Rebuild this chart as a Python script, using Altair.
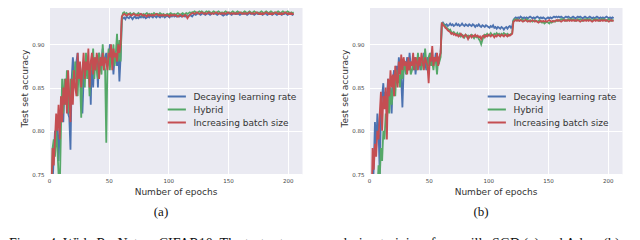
import altair as alt
import pandas as pd

series_names = ["Decaying learning rate", "Hybrid", "Increasing batch size"]
colors = ["#4C72B0", "#55A868", "#C44E52"]
x_ticks = [0, 50, 100, 150, 200]
y_ticks = [0.75, 0.80, 0.85, 0.90]
captions = ["(a)", "(b)"]
figure_caption = "Figure 4: Wide ResNet on CIFAR10. The test set accuracy during training, for vanilla SGD (a) and Adam (b)."

# ---------------- panel (a): epochs 1-61 ----------------
a_decay_early = [0.62,0.70,0.74,0.77,0.80,0.79,0.81,0.765,0.80,0.82,
 0.84,0.81,0.85,0.86,0.84,0.82,0.815,0.778,0.86,0.885,
 0.87,0.86,0.88,0.89,0.87,0.875,0.84,0.82,0.86,0.88,
 0.87,0.885,0.86,0.875,0.83,0.89,0.85,0.88,0.87,0.885,
 0.85,0.89,0.875,0.88,0.895,0.87,0.885,0.89,0.875,0.88,
 0.90,0.88,0.89,0.865,0.885,0.89,0.875,0.895,0.857,0.885,
 0.928]
a_hybrid_early = [0.60,0.72,0.78,0.79,0.77,0.80,0.78,0.75,0.73,0.80,
 0.86,0.82,0.86,0.83,0.87,0.85,0.82,0.86,0.84,0.87,
 0.85,0.88,0.86,0.84,0.875,0.86,0.815,0.87,0.88,0.85,
 0.89,0.86,0.875,0.84,0.88,0.87,0.895,0.86,0.885,0.87,
 0.86,0.89,0.875,0.865,0.90,0.88,0.87,0.786,0.88,0.895,
 0.87,0.89,0.88,0.90,0.875,0.89,0.912,0.88,0.905,0.88,
 0.930]
a_batch_early = [0.65,0.73,0.78,0.76,0.79,0.82,0.80,0.83,0.79,0.84,
 0.81,0.85,0.83,0.86,0.82,0.87,0.84,0.81,0.86,0.83,
 0.87,0.85,0.84,0.89,0.86,0.88,0.85,0.87,0.89,0.86,
 0.88,0.87,0.895,0.85,0.88,0.89,0.865,0.885,0.87,0.89,
 0.88,0.86,0.885,0.875,0.89,0.87,0.885,0.88,0.87,0.89,
 0.885,0.90,0.87,0.895,0.885,0.89,0.88,0.90,0.89,0.90,
 0.932]

# ---------------- panel (a): epochs 62-205 ----------------
a_decay_late = [0.930,0.931,0.929,0.932,0.931,0.930,0.932,0.931,0.929,0.931,0.932,0.930,
 0.931,0.930,0.932,0.931,0.933,0.931,0.932,0.930,0.931,0.932,0.931,0.933,
 0.932,0.931,0.933,0.932,0.931,0.933,0.932,0.931,0.933,0.932,0.933,0.931,
 0.932,0.933,0.932,0.931,0.933,0.932,0.934,0.932,0.933,0.932,0.933,0.932,
 0.933,0.932,0.934,0.933,0.932,0.933,0.932,0.933,0.934,0.933,0.932,
 0.934,0.935,0.934,0.935,0.936,0.935,0.934,0.935,0.936,0.935,0.934,0.935,
 0.936,0.935,0.934,0.935,0.936,0.935,0.936,0.935,0.934,0.935,0.936,0.935,
 0.934,0.933,0.934,0.935,0.934,0.935,0.936,0.935,0.934,0.935,0.936,0.935,
 0.935,0.936,0.935,0.934,0.935,0.936,0.935,0.936,0.935,0.934,0.935,0.936,
 0.935,0.936,0.935,0.934,0.935,0.936,0.935,0.935,0.936,0.935,0.934,0.935,
 0.936,0.935,0.934,0.935,0.936,0.935,0.934,0.935,0.936,0.935,0.934,0.935,
 0.936,0.935,0.934,0.935,0.935,0.936,0.935,0.934,0.935,0.936,0.935,0.934,
 0.935]
a_hybrid_late = [0.936,0.937,0.935,0.936,0.934,0.935,0.936,0.934,0.935,0.936,0.935,0.934,
 0.935,0.936,0.934,0.935,0.933,0.935,0.934,0.935,0.936,0.934,0.935,0.934,
 0.935,0.934,0.936,0.935,0.934,0.935,0.934,0.936,0.935,0.934,0.935,0.933,
 0.934,0.935,0.934,0.935,0.936,0.935,0.934,0.935,0.934,0.935,0.936,0.935,
 0.934,0.935,0.936,0.935,0.934,0.936,0.935,0.936,0.937,0.936,0.937,
 0.937,0.938,0.937,0.936,0.937,0.938,0.937,0.938,0.937,0.936,0.937,0.938,
 0.937,0.938,0.937,0.936,0.937,0.938,0.937,0.936,0.937,0.938,0.937,0.936,
 0.937,0.936,0.937,0.938,0.937,0.936,0.937,0.936,0.937,0.938,0.937,0.936,
 0.937,0.938,0.937,0.936,0.937,0.936,0.937,0.938,0.937,0.936,0.937,0.938,
 0.937,0.936,0.937,0.938,0.937,0.936,0.937,0.936,0.937,0.938,0.937,0.936,
 0.937,0.938,0.937,0.936,0.937,0.938,0.937,0.936,0.937,0.936,0.937,0.938,
 0.937,0.936,0.937,0.938,0.937,0.936,0.937,0.938,0.937,0.936,0.937,0.936,
 0.937]
a_batch_late = [0.934,0.935,0.934,0.933,0.934,0.935,0.934,0.933,0.934,0.935,0.934,0.933,
 0.934,0.933,0.934,0.935,0.934,0.933,0.934,0.933,0.932,0.934,0.933,0.934,
 0.933,0.934,0.933,0.934,0.935,0.934,0.933,0.934,0.933,0.934,0.933,0.934,
 0.933,0.934,0.933,0.932,0.934,0.933,0.934,0.933,0.934,0.933,0.932,0.933,
 0.934,0.933,0.932,0.933,0.934,0.933,0.930,0.932,0.934,0.935,0.936,
 0.936,0.935,0.936,0.937,0.936,0.935,0.936,0.937,0.936,0.935,0.936,0.935,
 0.936,0.937,0.936,0.935,0.936,0.935,0.936,0.937,0.936,0.935,0.936,0.935,
 0.936,0.935,0.936,0.935,0.936,0.937,0.936,0.935,0.936,0.935,0.936,0.935,
 0.936,0.935,0.936,0.937,0.936,0.935,0.936,0.935,0.936,0.935,0.936,0.937,
 0.936,0.935,0.936,0.935,0.936,0.937,0.936,0.935,0.936,0.935,0.936,0.935,
 0.936,0.937,0.936,0.935,0.936,0.935,0.936,0.935,0.936,0.937,0.936,0.935,
 0.936,0.935,0.936,0.935,0.936,0.937,0.936,0.935,0.936,0.935,0.936,0.935,
 0.935]

# ---------------- panel (b): epochs 1-61 ----------------
b_decay_early = [0.60,0.68,0.72,0.76,0.81,0.78,0.82,0.80,0.75,0.82,
 0.84,0.855,0.83,0.845,0.84,0.86,0.835,0.85,0.82,0.86,
 0.87,0.85,0.875,0.86,0.885,0.87,0.86,0.827,0.87,0.88,
 0.875,0.885,0.87,0.89,0.875,0.88,0.87,0.885,0.865,0.88,
 0.875,0.885,0.87,0.88,0.875,0.89,0.88,0.87,0.885,0.875,
 0.88,0.89,0.875,0.885,0.88,0.89,0.875,0.877,0.885,0.89,
 0.923]
b_hybrid_early = [0.55,0.62,0.68,0.70,0.72,0.74,0.73,0.76,0.745,0.78,
 0.765,0.80,0.79,0.82,0.81,0.84,0.82,0.85,0.83,0.845,
 0.86,0.84,0.87,0.855,0.865,0.85,0.875,0.86,0.87,0.88,
 0.865,0.875,0.87,0.88,0.865,0.87,0.88,0.875,0.885,0.87,
 0.89,0.875,0.88,0.87,0.885,0.875,0.895,0.88,0.87,0.885,
 0.89,0.875,0.88,0.87,0.885,0.88,0.865,0.885,0.88,0.885,
 0.924]
b_batch_early = [0.60,0.70,0.78,0.755,0.785,0.77,0.80,0.79,0.82,0.845,
 0.80,0.84,0.825,0.85,0.79,0.86,0.84,0.87,0.85,0.865,
 0.84,0.875,0.86,0.85,0.88,0.865,0.888,0.87,0.885,0.875,
 0.88,0.865,0.885,0.87,0.88,0.875,0.89,0.87,0.885,0.88,
 0.87,0.885,0.875,0.89,0.88,0.87,0.885,0.88,0.875,0.855,
 0.885,0.88,0.898,0.875,0.885,0.88,0.89,0.875,0.885,0.89,
 0.925]

# ---------------- panel (b): epochs 62-205 ----------------
b_decay_late = [0.925,0.923,0.922,0.923,0.921,0.922,0.924,0.922,0.923,0.921,0.922,0.924,
 0.922,0.923,0.921,0.922,0.924,0.922,0.921,0.923,0.922,0.921,0.923,0.922,
 0.921,0.923,0.922,0.920,0.922,0.921,0.923,0.921,0.920,0.922,0.921,0.920,
 0.922,0.921,0.920,0.919,0.921,0.920,0.922,0.919,0.920,0.918,0.920,0.919,
 0.918,0.920,0.919,0.917,0.919,0.920,0.918,0.920,0.921,0.919,0.921,
 0.928,0.930,0.931,0.930,0.931,0.930,0.932,0.931,0.930,0.931,0.930,0.931,
 0.930,0.931,0.932,0.931,0.930,0.931,0.930,0.931,0.932,0.931,0.930,0.931,
 0.930,0.931,0.930,0.929,0.930,0.931,0.930,0.931,0.930,0.931,0.932,0.931,
 0.932,0.931,0.932,0.931,0.932,0.931,0.930,0.931,0.932,0.931,0.932,0.931,
 0.930,0.931,0.932,0.931,0.930,0.931,0.932,0.931,0.932,0.931,0.930,0.931,
 0.932,0.931,0.930,0.931,0.932,0.931,0.930,0.931,0.930,0.931,0.932,0.931,
 0.930,0.931,0.930,0.931,0.930,0.931,0.932,0.931,0.930,0.931,0.930,0.931,
 0.930]
b_hybrid_late = [0.924,0.922,0.921,0.919,0.918,0.916,0.917,0.914,0.913,0.914,0.912,0.911,
 0.913,0.910,0.912,0.909,0.911,0.910,0.908,0.911,0.909,0.910,0.908,0.910,
 0.911,0.909,0.907,0.910,0.908,0.909,0.906,0.904,0.900,0.905,0.909,0.911,
 0.910,0.912,0.910,0.911,0.913,0.911,0.910,0.912,0.911,0.913,0.911,0.912,
 0.910,0.912,0.911,0.913,0.912,0.911,0.912,0.910,0.911,0.912,0.913,
 0.927,0.929,0.928,0.929,0.928,0.927,0.928,0.929,0.928,0.927,0.928,0.929,
 0.928,0.927,0.928,0.927,0.926,0.927,0.928,0.927,0.926,0.927,0.928,0.926,
 0.925,0.926,0.924,0.925,0.926,0.925,0.924,0.926,0.925,0.926,0.927,0.926,
 0.927,0.928,0.927,0.928,0.929,0.928,0.929,0.928,0.927,0.928,0.929,0.928,
 0.929,0.928,0.929,0.928,0.927,0.928,0.929,0.928,0.929,0.928,0.927,0.928,
 0.929,0.928,0.929,0.928,0.929,0.928,0.927,0.928,0.929,0.928,0.929,0.928,
 0.927,0.928,0.929,0.928,0.929,0.928,0.927,0.928,0.929,0.928,0.927,0.928,
 0.928]
b_batch_late = [0.922,0.921,0.919,0.918,0.916,0.915,0.914,0.912,0.913,0.911,0.912,0.910,
 0.911,0.909,0.910,0.912,0.910,0.908,0.910,0.911,0.909,0.906,0.909,0.910,
 0.908,0.910,0.909,0.911,0.909,0.910,0.908,0.909,0.906,0.909,0.910,0.908,
 0.910,0.909,0.911,0.910,0.909,0.911,0.910,0.908,0.910,0.909,0.911,0.910,
 0.909,0.911,0.910,0.909,0.911,0.910,0.909,0.911,0.910,0.911,0.912,
 0.926,0.927,0.928,0.927,0.928,0.927,0.928,0.927,0.926,0.927,0.928,0.927,
 0.926,0.927,0.926,0.927,0.928,0.927,0.926,0.927,0.926,0.925,0.926,0.927,
 0.926,0.927,0.926,0.927,0.926,0.927,0.928,0.927,0.926,0.927,0.926,0.927,
 0.928,0.927,0.928,0.927,0.926,0.927,0.928,0.927,0.928,0.927,0.928,0.927,
 0.928,0.927,0.928,0.927,0.928,0.927,0.928,0.927,0.926,0.927,0.928,0.927,
 0.928,0.927,0.928,0.927,0.928,0.927,0.926,0.927,0.928,0.927,0.928,0.927,
 0.928,0.927,0.928,0.927,0.928,0.927,0.928,0.927,0.926,0.927,0.928,0.927,
 0.927]

panel_a = [a_decay_early + a_decay_late, a_hybrid_early + a_hybrid_late, a_batch_early + a_batch_late]
panel_b = [b_decay_early + b_decay_late, b_hybrid_early + b_hybrid_late, b_batch_early + b_batch_late]
for s in panel_a + panel_b:
    assert len(s) == 205, len(s)

FONT = "DejaVu Sans"
SERIF = "Liberation Serif"
W, H = 253, 173


def make_panel(series_values, caption, with_figure_caption):
    rows = []
    for name, vals in zip(series_names, series_values):
        for i, v in enumerate(vals):
            rows.append({"epoch": i + 1, "acc": v, "series": name})
    df = pd.DataFrame(rows)
    lines = alt.Chart(df).mark_line(clip=True, strokeWidth=1.8).encode(
        x=alt.X("epoch:Q",
                scale=alt.Scale(domain=[0, 212], nice=False, zero=False),
                axis=alt.Axis(values=x_ticks, title="Number of epochs", format="d",
                              labelPadding=4, labelFlush=False,
                              titleX=126.5, titleY=17, titleBaseline="middle")),
        y=alt.Y("acc:Q",
                scale=alt.Scale(domain=[0.75, 0.95], nice=False, zero=False),
                axis=alt.Axis(values=y_ticks, title="Test set accuracy", format=".2f",
                              labelPadding=5, labelFlush=False,
                              titleX=-25, titleY=87, titleAngle=270,
                              titleAlign="center", titleBaseline="middle")),
        color=alt.Color("series:N",
                        scale=alt.Scale(domain=series_names, range=colors),
                        legend=alt.Legend(orient="none", legendX=120.3, legendY=88,
                                          title=None, symbolType="M-1.4,0H1.4",
                                          symbolSize=169, symbolStrokeWidth=2,
                                          labelFontSize=9, labelFont=FONT,
                                          labelColor="#333333", labelOffset=9.1,
                                          rowPadding=0, padding=0)),
    )
    cap = alt.Chart(pd.DataFrame({"t": [caption]})).mark_text(
        font=SERIF, fontSize=13, color="#111111", align="center", baseline="middle"
    ).encode(text="t:N", x=alt.value(112), y=alt.value(211))
    layers = [lines, cap]
    if with_figure_caption:
        fig = alt.Chart(pd.DataFrame({"t": [figure_caption]})).mark_text(
            font=SERIF, fontSize=14, color="#111111", align="left", baseline="alphabetic"
        ).encode(text="t:N", x=alt.value(-40), y=alt.value(247))
        layers.append(fig)
    return alt.layer(*layers).properties(width=W, height=H)


chart = alt.hconcat(
    make_panel(panel_a, captions[0], True),
    make_panel(panel_b, captions[1], False),
    spacing=67, bounds="flush",
).resolve_scale(color="independent").properties(
    padding={"left": 0, "top": -8, "right": 0, "bottom": 0}
).configure_view(
    fill="#EAEAF2", stroke="transparent"
).configure_axis(
    grid=True, gridColor="#FFFFFF", gridWidth=1, domain=False, ticks=False, tickSize=0,
    labelFont=FONT, labelFontSize=5.5, labelColor="#444444",
    titleFont=FONT, titleFontSize=9, titleFontWeight="normal", titleColor="#333333",
)

chart.save("out.html", embed_options={"renderer": "svg", "actions": False})
